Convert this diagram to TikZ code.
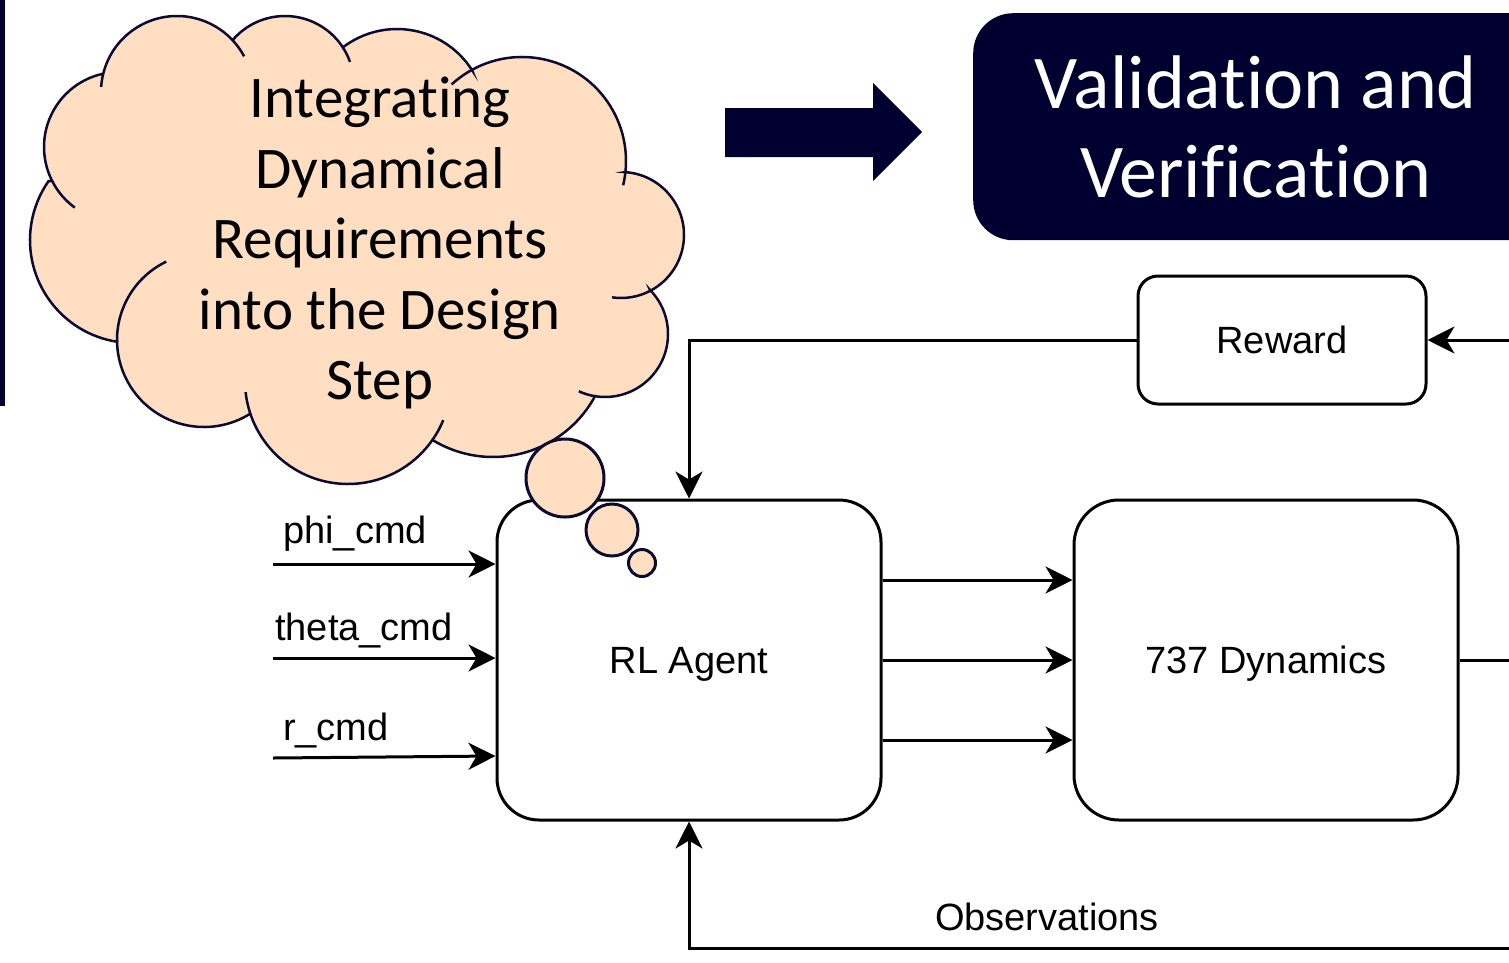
\documentclass[tikz,border=0pt]{standalone}
\usepackage{fontspec}
\setmainfont{Liberation Sans}
\newfontfamily\cloudfont[Ligatures={NoCommon,NoContextual}]{Carlito}
\usetikzlibrary{arrows.meta,calc}
\definecolor{navy}{RGB}{0,0,48}
\definecolor{peach}{RGB}{255,222,194}
\definecolor{cloudline}{RGB}{10,10,50}

\begin{document}
\begin{tikzpicture}[x=1pt, y=1pt, yscale=-1,
  wire/.style={line width=3pt, black},
  arr/.style={wire, -{Stealth[length=27pt, width=27pt, inset=8pt]}},
  box/.style={draw=black, line width=3pt, fill=white, text depth=0pt, font=\fontsize{38}{44}\selectfont},
  lbl/.style={font=\fontsize{38}{44}\selectfont, inner sep=0pt},
  cloudtxt/.style={font=\cloudfont\fontsize{59}{70}\selectfont, inner sep=0pt, anchor=base},
  vvtxt/.style={font=\cloudfont\fontsize{76}{90}\selectfont, text=white, inner sep=0pt, anchor=base},
  puff/.style={draw=cloudline, line width=2.5pt, fill=peach},
  tail/.style={draw=cloudline, line width=2.5pt},
]
\useasboundingbox (0,0) rectangle (1509,962);
\clip (0,0) rectangle (1509,962);
\fill[white] (0,0) rectangle (1509,962);

% navy edge bar on the left
\fill[navy] (0,0) rectangle (5,406);

% block arrow pointing to the V&V panel
\fill[navy] (725,108) -- (873,108) -- (873,83) -- (922,132) -- (873,181)
  -- (873,157) -- (725,157) -- cycle;

% V&V panel
\node[fill=navy, rounded corners=40pt, minimum width=600pt, minimum height=227pt,
  anchor=north west, inner sep=0pt] (vv) at (973,13) {};
\node[vvtxt] (vv1) at (1256,108) {Validation and};
\node[vvtxt] (vv2) at (1256,197) {Verification};

% blocks
\node[box, minimum width=384pt, minimum height=320pt, rounded corners=42pt] (rl) at (689,660) {RL Agent};
\node[box, minimum width=384pt, minimum height=320pt, rounded corners=45pt] (dyn) at (1266,660) {737 Dynamics};
\node[box, minimum width=288pt, minimum height=128pt, rounded corners=20pt] (rw) at (1282,340) {Reward};

% command inputs
\coordinate (phiIn) at (273,564);
\coordinate (thIn) at (273,658);
\coordinate (rIn) at (273,758);
\draw[arr] (phiIn) -- (phiIn -| rl.west);
\draw[arr] (thIn) -- (thIn -| rl.west);
\draw[arr] (rIn) -- (rl.west |- 0,756);
\node[lbl, anchor=base west] (phiL) at (283,543) {phi\_cmd};
\node[lbl, anchor=base west] (thL) at (275,640) {theta\_cmd};
\node[lbl, anchor=base west] (rL) at (283,740) {r\_cmd};

% actions to the dynamics
\foreach \yy in {580,660,740}
  \draw[arr] (rl.east |- 0,\yy) -- (dyn.west |- 0,\yy);

% outputs and feedback
\coordinate (dynOut) at (1512,660);
\draw[wire] (dyn.east) -- (dynOut);
\coordinate (rwIn) at (1512,340);
\draw[arr] (rwIn) -- (rw.east);
\draw[arr] (rw.west) -- (rw.west -| rl.north) -- (rl.north);
\coordinate (obsIn) at (1512,948);
\draw[arr] (obsIn) -- (obsIn -| rl.south) -- (rl.south);
\node[lbl, anchor=base] (obsL) at (1047,930) {Observations};

% thought cloud
\path[puff]
  ($(177,92)+(193:76)$) arc[start angle=193, end angle=317, radius=76]
  -- ($(285,85)+(221:69)$) arc[start angle=221, end angle=327, radius=69]
  -- ($(397,118)+(232.7:89)$) arc[start angle=232.7, end angle=327.4, radius=89]
  -- ($(522,161)+(241.2:104)$) arc[start angle=241.2, end angle=366.1, radius=104]
  -- ($(621,235)+(-86.4:63)$) arc[start angle=-86.4, end angle=62.2, radius=63]
  -- ($(605,334)+(-44.4:63)$) arc[start angle=-44.4, end angle=99, radius=63]
  -- ($(493,341)+(28.8:116)$) arc[start angle=28.8, end angle=121.2, radius=116]
  -- ($(348,381)+(34.8:103)$) arc[start angle=34.8, end angle=161.9, radius=103]
  -- ($(204,340)+(57.8:87)$) arc[start angle=57.8, end angle=178.7, radius=87]
  -- ($(133,240)+(98.9:103)$) arc[start angle=98.9, end angle=214.9, radius=103]
  -- ($(119,147)+(153.1:75)$) arc[start angle=153.1, end angle=256.7, radius=75]
  -- cycle;
% inner creases of the cloud
\draw[tail] ($(177,92)+(183.8:76)$) arc[start angle=183.8, end angle=193, radius=76];
\draw[tail] ($(177,92)+(317:76)$) arc[start angle=317, end angle=332, radius=76];
\draw[tail] ($(285,85)+(327:69)$) arc[start angle=327, end angle=340.5, radius=69];
\draw[tail] ($(522,161)+(227.4:104)$) arc[start angle=227.4, end angle=241.2, radius=104];
\draw[tail] ($(522,161)+(366.1:104)$) arc[start angle=366.1, end angle=373.5, radius=104];
\draw[tail] ($(621,235)+(62.2:63)$) arc[start angle=62.2, end angle=98.1, radius=63];
\draw[tail] ($(605,334)+(99:63)$) arc[start angle=99, end angle=114.6, radius=63];
\draw[tail] ($(348,381)+(22.3:103)$) arc[start angle=22.3, end angle=34.8, radius=103];
\draw[tail] ($(348,381)+(161.9:103)$) arc[start angle=161.9, end angle=173.8, radius=103];
\draw[tail] ($(204,340)+(178.7:87)$) arc[start angle=178.7, end angle=244.3, radius=87];
\draw[tail] ($(119,147)+(126.1:75)$) arc[start angle=126.1, end angle=153.1, radius=75];

\node[cloudtxt] (c1) at (380,117) {Integrating};
\node[cloudtxt] (c2) at (380,188) {Dynamical};
\node[cloudtxt] (c3) at (380,258) {Requirements};
\node[cloudtxt] (c4) at (380,329) {into the Design};
\node[cloudtxt] (c5) at (380,399) {Step};

% thought bubbles
\node[puff, circle, minimum size=78pt, inner sep=0pt, line width=3pt] (b1) at (565,478) {};
\node[puff, circle, minimum size=52pt, inner sep=0pt, line width=3pt] (b2) at (612,530) {};
\node[puff, circle, minimum size=27pt, inner sep=0pt, line width=3pt] (b3) at (642,563) {};
\end{tikzpicture}
\end{document}
